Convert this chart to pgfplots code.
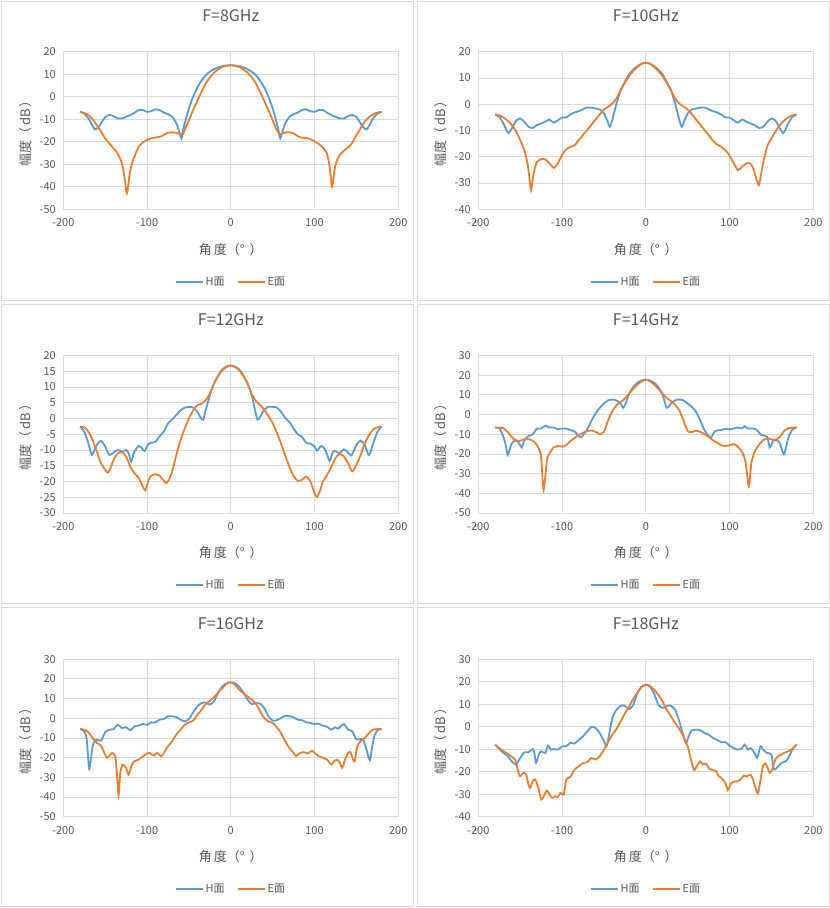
\documentclass[border=0pt]{standalone}
\usepackage{fontspec}
\setmainfont{Noto Sans CJK SC}
\usepackage{pgfplots}
\pgfplotsset{compat=1.18}
\definecolor{hblue}{HTML}{5B9BD5}
\definecolor{eorange}{HTML}{ED7D31}
\definecolor{gridc}{HTML}{D9D9D9}
\definecolor{txt}{HTML}{595959}
\pgfplotsset{
  panel/.style={
    scale only axis, width=335pt, height=157.5pt, anchor=south west,
    xmin=-200, xmax=200, xtick={-200,-100,0,100,200},
    xticklabels={-200,-100,0,100,200},
    /pgf/number format/assume math mode=true,
    grid=major, major grid style={draw=gridc, line width=0.8pt},
    axis line style={draw=gridc, line width=0.8pt},
    major tick length=0pt,
    tick label style={font=\fontsize{11}{13}\selectfont, text=txt},
    xticklabel style={yshift=-6pt},
    yticklabel style={xshift=-4pt},
    title style={font=\fontsize{16}{19}\selectfont, text=txt, at={(axis description cs:0.5,1.19)}, anchor=center},
    xlabel={角\hspace{2pt}度（°\hspace{5pt}）}, ylabel={幅度（\hspace{2pt}dB\hspace{2pt}）},
    xlabel style={font=\fontsize{13}{15}\selectfont, text=txt, at={(axis description cs:0.5,-0.254)}, anchor=center},
    ylabel style={font=\fontsize{13}{15}\selectfont, text=txt, at={(axis description cs:-0.113,0.5)}, anchor=center},
    legend style={at={(axis description cs:0.5,-0.46)}, anchor=center, draw=none, fill=none, legend columns=2, font=\fontsize{11}{13}\selectfont, text=txt, /tikz/every even column/.append style={column sep=10pt}},
    legend image code/.code={\draw[#1, line width=2pt] (0pt,0pt) -- (27pt,0pt);},
    every axis plot/.append style={line width=1.8pt, smooth, tension=0.4, no markers},
  },
}
\begin{document}
\begin{tikzpicture}
\fill[white] (0pt,0pt) rectangle (830pt,908pt);
\draw[gridc, line width=0.8pt] (1pt,608pt) rectangle (413pt,907pt);
\draw[gridc, line width=0.8pt] (417pt,608pt) rectangle (829pt,907pt);
\draw[gridc, line width=0.8pt] (1pt,305pt) rectangle (413pt,604pt);
\draw[gridc, line width=0.8pt] (417pt,305pt) rectangle (829pt,604pt);
\draw[gridc, line width=0.8pt] (1pt,2pt) rectangle (413pt,301pt);
\draw[gridc, line width=0.8pt] (417pt,2pt) rectangle (829pt,301pt);

% ---------- F=8GHz ----------
\begin{axis}[panel, at={(63.3pt,698.7pt)}, title={F=8GHz}, ymin=-50, ymax=20, ytick={-50,-40,...,20}]
\addplot[hblue] coordinates {(-180,-6.7)(-175,-7.5)(-170,-9.6)(-165,-13)(-162,-14.5)(-158,-13.5)(-155,-11.8)(-150,-9)(-145,-8.1)(-140,-8.6)(-135,-9.6)(-130,-9.6)(-125,-8.9)(-120,-8.1)(-115,-7.1)(-110,-5.9)(-105,-5.9)(-100,-6.7)(-95,-6.4)(-90,-5.6)(-85,-5.9)(-80,-7)(-75,-7.7)(-70,-8.9)(-65,-11.8)(-62,-15)(-59,-18.5)(-57,-15)(-55,-11.8)(-50,-5.2)(-45,0)(-40,4.1)(-35,7.1)(-30,9.6)(-25,11.1)(-20,12.3)(-15,13.1)(-10,13.6)(-5,13.9)(0,14)
(5,13.9)(10,13.6)(15,13.1)(20,12.3)(25,11.1)(30,9.6)(35,7.1)(40,4.1)(45,0)(50,-5.2)(55,-11.8)(57,-15)(59,-18.5)(62,-15)(65,-11.8)(70,-8.9)(75,-7.7)(80,-7)(85,-5.9)(90,-5.6)(95,-6.4)(100,-6.7)(105,-5.9)(110,-5.9)(115,-7.1)(120,-8.1)(125,-8.9)(130,-9.6)(135,-9.6)(140,-8.6)(145,-8.1)(150,-9)(155,-11.8)(158,-13.5)(162,-14.5)(165,-13)(170,-9.6)(175,-7.5)(180,-6.7)};
\addlegendentry{H面}
\addplot[eorange] coordinates {(-180,-6.7)(-175,-7.2)(-170,-8.1)(-165,-10)(-160,-12.6)(-155,-15.5)(-150,-18.5)(-145,-20.7)(-140,-22.9)(-135,-25.2)(-130,-29.6)(-127,-35.5)(-124,-43)(-121,-35)(-118,-29.5)(-115,-26.6)(-110,-22.2)(-105,-20.3)(-100,-19.2)(-95,-18.5)(-90,-18.1)(-85,-17.8)(-80,-17)(-75,-16)(-70,-15.8)(-65,-16)(-60,-16.7)(-57,-16.6)(-55,-14.8)(-50,-10.4)(-45,-5.9)(-40,-1.9)(-35,2.2)(-30,5.9)(-25,8.6)(-20,10.7)(-15,12.2)(-10,13.3)(-5,13.8)(0,14)
(5,13.8)(10,13.3)(15,12.2)(20,10.7)(25,8.6)(30,5.9)(35,2.2)(40,-1.9)(45,-5.9)(50,-10.4)(55,-14.8)(58,-16.5)(62,-16.3)(66,-15.8)(70,-15.8)(75,-16.3)(80,-17.5)(85,-18.2)(90,-18.3)(95,-18.8)(100,-19.8)(105,-21)(110,-22.5)(115,-25.5)(118,-31)(121,-40)(124,-32)(127,-28)(130,-26)(135,-24)(140,-22.5)(145,-20.5)(150,-17)(155,-14)(160,-11)(165,-9)(170,-7.8)(175,-7)(180,-6.7)};
\addlegendentry{E面}
\end{axis}

% ---------- F=10GHz ----------
\begin{axis}[panel, at={(478.3pt,698.7pt)}, title={F=10GHz}, ymin=-40, ymax=20, ytick={-40,-30,...,20}]
\addplot[hblue] coordinates {(-180,-3.9)(-175,-4.8)(-170,-7.3)(-167,-9.5)(-164,-11)(-160,-9.2)(-155,-6.3)(-150,-5.4)(-145,-6.7)(-140,-8.6)(-135,-9)(-130,-7.9)(-125,-7.3)(-120,-6.6)(-115,-5.8)(-110,-7)(-105,-6.1)(-100,-5)(-95,-5)(-90,-3.9)(-85,-3.1)(-80,-2.6)(-75,-1.9)(-70,-1.2)(-65,-1.3)(-60,-1.6)(-55,-2)(-50,-3.5)(-46,-6.2)(-43,-8.6)(-40,-6)(-35,0.3)(-30,5.4)(-25,8.5)(-20,11.4)(-15,13.2)(-10,14.5)(-5,15.5)(0,15.8)
(5,15.5)(10,14.5)(15,13.2)(20,11.4)(25,8.5)(30,5.4)(35,0.3)(40,-6)(43,-8.6)(46,-6.2)(50,-3.5)(55,-2)(60,-1.6)(65,-1.3)(70,-1.2)(75,-1.9)(80,-2.6)(85,-3.1)(90,-3.9)(95,-5)(100,-5)(105,-6.1)(110,-7)(115,-5.8)(120,-6.6)(125,-7.3)(130,-7.9)(135,-9)(140,-8.6)(145,-6.7)(150,-5.4)(155,-6.3)(160,-9.2)(164,-11)(167,-9.5)(170,-7.3)(175,-4.8)(180,-3.9)};
\addlegendentry{H面}
\addplot[eorange] coordinates {(-180,-3.9)(-175,-4.2)(-170,-5)(-165,-6.2)(-160,-7.9)(-155,-10.3)(-150,-13.6)(-145,-17.5)(-141,-23)(-139,-28)(-137,-32.7)(-135,-28.5)(-133,-25)(-130,-22)(-125,-20.9)(-120,-21)(-115,-22.5)(-110,-24.2)(-105,-22.5)(-100,-19.3)(-95,-17.2)(-90,-16.2)(-85,-15.6)(-80,-13.6)(-75,-11.7)(-70,-9.8)(-65,-7.8)(-60,-5.8)(-55,-3.8)(-50,-2)(-45,-1)(-40,0.3)(-35,2.2)(-30,5.4)(-25,8.2)(-20,10.7)(-15,12.7)(-10,14.2)(-5,15.4)(0,15.8)
(5,15.4)(10,14.2)(15,12.7)(20,10.7)(25,8.2)(30,5.4)(35,2.2)(40,0.3)(45,-0.8)(50,-2)(55,-3.8)(60,-5.8)(65,-7.8)(70,-9.8)(75,-11.7)(80,-13.8)(85,-15.3)(90,-16.2)(95,-17.5)(100,-19.5)(105,-22.5)(110,-25)(115,-23.8)(120,-22.5)(125,-22.6)(129,-25)(132,-28.5)(135,-30.8)(138,-26)(141,-21)(145,-16)(150,-13)(155,-10.3)(160,-8)(165,-6.3)(170,-5)(175,-4.2)(180,-3.9)};
\addlegendentry{E面}
\end{axis}

% ---------- F=12GHz ----------
\begin{axis}[panel, at={(63.3pt,395pt)}, title={F=12GHz}, ymin=-30, ymax=20, ytick={-30,-25,...,20}]
\addplot[hblue] coordinates {(-180,-2.6)(-175,-4.2)(-170,-7.9)(-166,-11.6)(-162,-9.5)(-160,-8.4)(-155,-7.1)(-150,-8.9)(-145,-11.6)(-140,-10.8)(-135,-10)(-130,-10.5)(-125,-10)(-122,-11)(-119,-13.7)(-115,-10.5)(-110,-8.7)(-106,-9.5)(-103,-10.3)(-98,-8)(-95,-7.7)(-90,-7.4)(-85,-5.6)(-80,-4.2)(-75,-1.6)(-70,-0.3)(-65,1.1)(-60,2.6)(-55,3.4)(-50,3.7)(-45,3.5)(-40,2.1)(-36,0.3)(-33,-0.4)(-30,2.6)(-25,7.4)(-20,11.1)(-15,13.7)(-10,15.6)(-5,16.5)(0,16.8)
(5,16.5)(10,15.6)(15,13.7)(20,11.1)(25,7.4)(29,2.5)(32,-0.4)(35,0.5)(40,2.8)(45,3.7)(50,3.7)(55,3.5)(60,2.1)(65,0.2)(70,-1.1)(75,-3.2)(80,-5)(85,-5.8)(90,-7.7)(95,-8)(100,-8.9)(103,-10.2)(108,-8.7)(113,-10)(118,-13.5)(122,-10.5)(126,-10.5)(130,-11)(135,-9.8)(140,-10.8)(144,-11.7)(150,-8.4)(155,-7)(160,-8.5)(165,-11.6)(170,-8)(175,-4.2)(180,-2.6)};
\addlegendentry{H面}
\addplot[eorange] coordinates {(-180,-2.6)(-175,-2.8)(-170,-4.2)(-165,-6.8)(-160,-10.5)(-155,-14.2)(-150,-16.3)(-147,-17.2)(-144,-16)(-140,-13.2)(-135,-11.1)(-130,-10.7)(-125,-12.1)(-120,-15.3)(-115,-17.4)(-110,-18.9)(-105,-21.6)(-102,-22.8)(-98,-19.5)(-95,-18.2)(-90,-17.7)(-85,-18.2)(-80,-19.7)(-77,-20.5)(-74,-19.5)(-70,-16.8)(-65,-11.6)(-60,-6.8)(-55,-3.2)(-50,0)(-45,2.6)(-40,4.2)(-35,4.7)(-30,5.8)(-25,7.9)(-20,11.1)(-15,13.5)(-10,15.3)(-5,16.4)(0,16.8)
(5,16.4)(10,15.3)(15,13.5)(20,11.1)(25,7.8)(30,5.5)(35,4.3)(40,2.8)(45,0.8)(50,-1.5)(55,-4.5)(60,-7.9)(65,-11.8)(70,-15.3)(75,-18.3)(80,-19.8)(85,-19.5)(90,-18.4)(95,-20)(100,-23.7)(103,-25)(107,-22.6)(110,-20)(115,-17.9)(120,-15.3)(125,-12.6)(130,-11.3)(135,-12)(140,-14.2)(145,-16.8)(150,-14.7)(155,-11.6)(160,-7.9)(165,-5.3)(170,-3.5)(175,-2.8)(180,-2.6)};
\addlegendentry{E面}
\end{axis}

% ---------- F=14GHz ----------
\begin{axis}[panel, at={(478.3pt,395pt)}, title={F=14GHz}, ymin=-50, ymax=30, ytick={-50,-40,...,30}]
\addplot[hblue] coordinates {(-180,-6.6)(-175,-7)(-170,-11.3)(-167,-16)(-165,-20.5)(-162,-17)(-160,-14.6)(-155,-13)(-150,-15.5)(-148,-16.7)(-145,-13)(-140,-10.9)(-135,-10.1)(-130,-7.1)(-125,-7.1)(-120,-5.7)(-115,-6.6)(-110,-6.6)(-105,-7.4)(-100,-7.1)(-95,-7.1)(-90,-7.9)(-85,-8.6)(-80,-10.9)(-77,-11.6)(-74,-10)(-70,-7.6)(-65,-3.2)(-60,0.5)(-55,3.4)(-50,5.6)(-45,7.2)(-40,7.6)(-35,7.2)(-30,5.6)(-27,3.5)(-24,5.6)(-20,10.6)(-15,14)(-10,16.2)(-5,17.3)(0,17.7)
(5,17.3)(10,16.2)(15,14)(20,10)(25,3.5)(28,4.5)(30,5.6)(35,7.2)(40,7.7)(45,7.2)(50,5.6)(55,3.9)(60,1.3)(65,-2.9)(70,-7.9)(75,-10.9)(78,-11.6)(82,-8.8)(86,-8)(90,-7.9)(95,-7.2)(100,-7.5)(105,-7.1)(110,-6.6)(115,-7.1)(118,-5.9)(122,-7.1)(128,-7.1)(132,-7.6)(138,-10.4)(145,-11.3)(148,-16.7)(152,-13.3)(155,-12.6)(160,-14.5)(165,-20.2)(170,-12.1)(175,-7.6)(180,-6.6)};
\addlegendentry{H面}
\addplot[eorange] coordinates {(-180,-6.6)(-175,-6.7)(-170,-6.9)(-165,-8.8)(-160,-11.3)(-155,-13.5)(-150,-13.3)(-145,-12.5)(-140,-12.5)(-135,-13.3)(-130,-15.5)(-127,-18)(-125,-21.4)(-122,-38.2)(-118,-23)(-115,-19.7)(-110,-16.7)(-105,-16)(-100,-16.3)(-95,-15.5)(-90,-13.5)(-85,-11.8)(-80,-10.4)(-75,-9.3)(-70,-8.4)(-65,-8.1)(-60,-8.8)(-55,-9.9)(-50,-8.8)(-45,-2.9)(-40,1.7)(-35,4.7)(-30,6.4)(-25,8.1)(-20,10.6)(-15,13)(-10,15.2)(-5,16.9)(0,17.7)
(5,16.9)(10,15.2)(15,13)(20,10.6)(25,8.3)(30,6.9)(35,5)(40,2.2)(45,-3)(50,-8.4)(55,-8.9)(60,-8.2)(65,-8.8)(70,-9.9)(75,-11.3)(80,-13)(85,-14.2)(90,-15.5)(95,-16)(100,-15.6)(105,-15)(110,-16.3)(115,-18.9)(119,-24)(123,-36.5)(126,-24.7)(130,-18.9)(135,-15.5)(140,-13)(145,-12.1)(150,-12.6)(155,-13)(160,-11.3)(165,-8.4)(170,-7)(175,-6.7)(180,-6.6)};
\addlegendentry{E面}
\end{axis}

% ---------- F=16GHz ----------
\begin{axis}[panel, at={(63.3pt,91.3pt)}, title={F=16GHz}, ymin=-50, ymax=30, ytick={-50,-40,...,30}]
\addplot[hblue] coordinates {(-180,-5.5)(-175,-6.6)(-172,-10.8)(-169,-25.7)(-165,-14.2)(-162,-11.4)(-160,-10.8)(-155,-11.4)(-150,-7.1)(-145,-5.8)(-140,-5.5)(-135,-3.3)(-130,-5)(-125,-4.5)(-120,-6.1)(-115,-4.1)(-110,-3.7)(-105,-2.9)(-100,-3.3)(-95,-2.1)(-90,-2.1)(-85,-0.7)(-80,-0.4)(-75,1)(-70,1)(-65,0.6)(-60,-0.7)(-55,-1.6)(-50,-0.4)(-45,3)(-40,6)(-35,7.7)(-30,8)(-25,6.9)(-20,8.6)(-15,13.1)(-10,16.2)(-5,17.8)(0,18.3)
(5,17.8)(10,16)(15,13)(20,9.4)(25,7.2)(30,7.7)(35,7.4)(40,5.2)(45,1)(50,-1.2)(55,-1)(60,0.1)(65,1.3)(70,1)(75,0.5)(80,-0.7)(85,-1)(90,-2)(95,-2.4)(100,-2.9)(105,-2.8)(110,-3.7)(115,-4.3)(120,-5.8)(125,-4.5)(128,-5.3)(135,-2.9)(140,-5.8)(145,-6.6)(150,-10.8)(155,-10.5)(158,-10.8)(162,-15.9)(166,-21.3)(169,-14)(172,-8.3)(176,-5.8)(180,-5.5)};
\addlegendentry{H面}
\addplot[eorange] coordinates {(-180,-5.5)(-175,-5.8)(-170,-7.1)(-165,-10)(-160,-12.5)(-155,-13.9)(-150,-18.5)(-148,-20.1)(-145,-19.3)(-142,-17.6)(-138,-19.3)(-136,-27.8)(-134,-39.2)(-132,-27.8)(-129,-23.5)(-125,-25.2)(-122,-28.6)(-118,-23.5)(-115,-21.8)(-110,-21)(-105,-19.3)(-100,-17.9)(-97,-17.6)(-92,-18.9)(-88,-17.6)(-83,-19.3)(-80,-17.6)(-75,-14.2)(-70,-11.7)(-65,-8.3)(-60,-5.8)(-55,-3.3)(-50,-2.1)(-45,-1.2)(-40,1.8)(-35,4.3)(-30,7.2)(-25,8.9)(-20,10.7)(-15,13.1)(-10,15.3)(-5,17.5)(0,18.3)
(5,17)(10,14.5)(15,12.7)(20,11.1)(25,9.3)(30,7.4)(35,3.5)(40,0.1)(45,-1.6)(50,-2.4)(55,-4.6)(60,-7.5)(65,-11.7)(70,-15.1)(75,-17.6)(78,-19.3)(82,-17.8)(87,-17.2)(92,-17.8)(97,-16.5)(100,-17.6)(105,-19.3)(110,-20.1)(115,-21)(120,-23.5)(124,-21.5)(127,-21)(130,-22.5)(133,-25.2)(136,-21.5)(140,-17.6)(143,-17.3)(146,-21)(148,-21.8)(151,-14.2)(155,-11.7)(160,-10)(165,-7.5)(170,-5.8)(175,-5.5)(180,-5.5)};
\addlegendentry{E面}
\end{axis}

% ---------- F=18GHz ----------
\begin{axis}[panel, at={(478.3pt,91.3pt)}, title={F=18GHz}, ymin=-40, ymax=30, ytick={-40,-30,...,30}]
\addplot[hblue] coordinates {(-180,-8)(-175,-9.9)(-170,-11.7)(-165,-13.1)(-160,-15.4)(-155,-16.8)(-150,-13.9)(-145,-11.4)(-140,-11.4)(-135,-9.9)(-133,-11.7)(-131,-16)(-127,-11.7)(-125,-10.9)(-120,-11.7)(-117,-8.4)(-113,-10.2)(-110,-9.9)(-105,-10.2)(-100,-8.7)(-95,-8.7)(-90,-7.2)(-85,-7.5)(-80,-5.8)(-75,-4.3)(-70,-2.1)(-65,-0.1)(-60,-0.6)(-55,-2.8)(-50,-6.5)(-47,-8.7)(-45,-5.8)(-40,3.8)(-35,7.5)(-30,9.3)(-25,9.3)(-20,7.8)(-15,9.7)(-10,14.9)(-5,17.9)(0,18.6)
(5,17.9)(10,14.6)(15,9.7)(20,8.3)(25,9.3)(30,9.3)(35,7.5)(40,2.4)(45,-4.3)(48,-7.2)(52,-3.5)(55,-1.6)(60,-1.3)(65,-1.6)(70,-2.8)(75,-3.5)(80,-5)(85,-5.8)(90,-6.9)(95,-6.9)(100,-8.4)(105,-9.5)(110,-10.2)(115,-9.5)(118,-8)(122,-10.2)(125,-9.5)(130,-11.7)(133,-13.9)(137,-8.7)(140,-10.2)(145,-11.7)(150,-12.4)(153,-19)(158,-17.6)(162,-16.1)(167,-15.4)(170,-13.9)(175,-10.2)(180,-8)};
\addlegendentry{H面}
\addplot[eorange] coordinates {(-180,-8)(-175,-9.5)(-170,-10.9)(-165,-12)(-160,-13.4)(-156,-14.6)(-153,-19)(-150,-22)(-146,-20.5)(-143,-21.3)(-140,-25.7)(-138,-27.2)(-135,-24.2)(-132,-23.5)(-128,-27.6)(-125,-32.3)(-122,-30.9)(-118,-28.4)(-115,-30.1)(-112,-31.6)(-108,-30.9)(-105,-31.3)(-102,-29.4)(-98,-30.1)(-95,-23.5)(-90,-22.3)(-85,-19)(-80,-17.6)(-75,-16.1)(-70,-15.8)(-65,-13.9)(-60,-14.6)(-55,-13.1)(-50,-10.2)(-45,-6.9)(-40,-3.5)(-35,-1)(-30,2.4)(-25,5.8)(-20,9)(-15,12.3)(-10,15.2)(-5,17.6)(0,18.6)
(5,18.1)(10,16.4)(15,14.2)(20,11.2)(25,7.5)(30,4.6)(35,1.6)(40,-1)(45,-4.3)(50,-8.7)(53,-13.1)(56,-17.6)(58,-19.3)(62,-16.8)(65,-15.4)(68,-16.8)(72,-16.4)(76,-18.8)(80,-19.3)(84,-19.8)(87,-22)(90,-22.7)(95,-25)(98,-28.2)(102,-25)(105,-24.5)(110,-24.2)(113,-23.5)(117,-21.7)(120,-22.2)(125,-21.3)(128,-23.5)(131,-27.2)(134,-29.7)(137,-23.5)(140,-17.3)(143,-16.4)(146,-18.8)(148,-20.5)(151,-19)(155,-14.3)(160,-12.8)(165,-11.7)(170,-10.9)(175,-9.9)(180,-8)};
\addlegendentry{E面}
\end{axis}
\end{tikzpicture}
\end{document}
